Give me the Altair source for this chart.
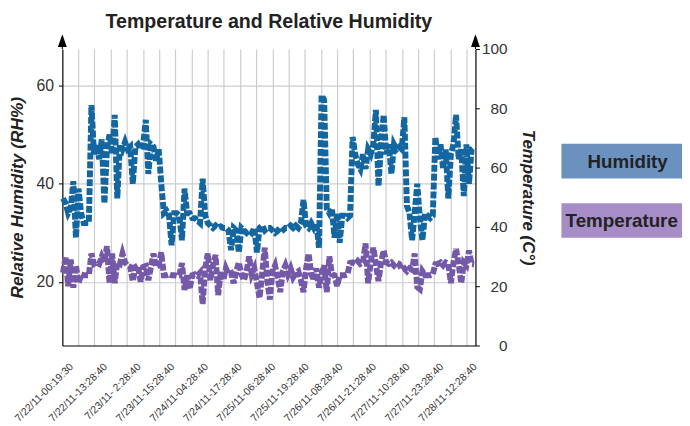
import altair as alt
import pandas as pd
from datetime import datetime

# ---------------- data ----------------
label_strings = [
    "7/22/11-00:19:30", "7/22/11-13:28:40", "7/23/11- 2:28:40", "7/23/11-15:28:40",
    "7/24/11-04:28:40", "7/24/11-17:28:40", "7/25/11-06:28:40", "7/25/11-19:28:40",
    "7/26/11-08:28:40", "7/26/11-21:28:40", "7/27/11-10:28:40", "7/27/11-23:28:40",
    "7/28/11-12:28:40",
]

# hours since the first label (hourly samples)
hours = list(range(-3, 157))

humidity = [
    37, 36, 34, 35, 40.5, 29, 39, 34, 32, 32,
    32, 56, 46, 48, 45, 49, 36, 47, 50, 46,
    54, 37, 48, 47, 48.5, 47, 47.5, 40, 47.5, 48,
    47, 48, 53, 42, 48, 47.5, 44.7, 47, 40, 34,
    34.5, 33.5, 27.5, 34, 34, 33.5, 28.5, 39, 34, 34,
    33, 33, 32.5, 32, 41, 33.5, 32, 31.5, 31, 31.5,
    31, 31.3, 31, 31, 30.5, 26.5, 31, 30.5, 26, 31,
    30.5, 30, 30.5, 30, 31, 26, 31, 31.5, 30.5, 31,
    31, 30.5, 30, 30.5, 30, 30.5, 31, 31, 31.5, 31,
    31.5, 31, 32, 36.7, 31.5, 31, 32, 31, 32, 27,
    58, 57, 35, 34, 35, 29, 34, 28, 33.5, 33.5,
    33, 33.5, 49.5, 46, 44, 43, 46, 43, 47, 46,
    48, 55, 39.5, 48, 54, 46, 48, 42, 48, 47,
    47.5, 47, 53.5, 35.5, 34, 28.5, 34, 40, 33, 28.5,
    34, 33.5, 33, 33.5, 49.5, 45, 48, 43, 47, 37,
    46, 48, 54, 45, 47, 37.5, 48, 40, 47, 47.5,
]

temperature = [
    24.5, 30, 20, 29, 19.5, 27, 21, 24, 23.7, 23.7,
    23.7, 31, 27.5, 28, 27.5, 30, 28, 33.5, 21, 31,
    21, 28, 27.5, 31, 28, 27, 26.5, 21.7, 26.5, 27,
    21.5, 26.5, 26.8, 22, 26.5, 31, 26.5, 27, 31.4, 23.7,
    23.7, 24, 23.7, 23.7, 23.5, 23.7, 27.8, 18.7, 23.7, 19,
    23.7, 24, 23.5, 24.5, 14, 26, 31, 22, 27, 30.5,
    17, 25, 22, 26, 24, 24.4, 21, 25, 28, 24,
    22, 25, 30, 24, 26, 21, 16, 24, 33, 22,
    15.5, 25, 27, 23, 18, 25, 27, 24, 26, 23,
    24.4, 25, 22, 18, 26, 31, 24, 22, 26, 19.5,
    24, 27, 18, 30, 24, 23.7, 20, 23.7, 23.7, 23.7,
    24, 27.8, 28, 27.5, 28.5, 27.5, 28, 34.4, 21, 28,
    33, 27.5, 21.7, 28, 32, 28, 27.5, 28, 27, 28,
    27.5, 25.5, 26, 25, 26, 25.5, 31, 19.7, 19, 25,
    23.7, 23.7, 23.7, 24, 27.4, 27.5, 28, 27, 28, 27.5,
    21, 28, 32.5, 27.5, 21, 28, 27, 32, 27.5, 27.4,
]

series_names = ["Humidity", "Temperature"]
line_colors = ["#13669f", "#7459a8"]
box_colors = ["#6b92bf", "#a68dc8"]

hum_ticks = [20, 40, 60]
temp_ticks = [0, 20, 40, 60, 80, 100]
grid_start, grid_step, grid_count = 2.87, 6.26, 25

# ---------------- helpers ----------------
def parse(s):
    return datetime.strptime(s.replace("- ", "-0"), "%m/%d/%y-%H:%M:%S")

t0 = parse(label_strings[0])
label_hours = [(parse(s) - t0).total_seconds() / 3600 for s in label_strings]
grid_hours = [grid_start + i * grid_step for i in range(grid_count)]

df = pd.DataFrame({"hour": hours, "humidity": humidity, "temperature": temperature})
one = pd.DataFrame({"a": [0]})

FONT = "Liberation Sans, Arial, Helvetica, sans-serif"
W, H = 418, 300

xscale = alt.Scale(domain=[-3.25, 156.5], nice=False, zero=False)
label_expr = "[" + ",".join("'%s'" % s for s in label_strings) + "][round(datum.value / 13)]"

grid_axis = alt.Axis(values=grid_hours, grid=True, gridColor="#cccccc", gridWidth=1.2,
                     labels=False, ticks=False, domain=False, title=None, orient="bottom")
label_axis = alt.Axis(values=label_hours, labelExpr=label_expr, labelAngle=-45,
                      labelFont=FONT, labelFontSize=10.5, labelColor="#333333",
                      ticks=False, grid=False, domainColor="black", domainWidth=1.2,
                      title=None, labelPadding=16, labelOffset=-3, labelOverlap=False,
                      labelBound=False, labelFlush=False, orient="bottom")

left_axis = alt.Axis(values=hum_ticks, grid=True, gridColor="#cccccc", gridWidth=1.2,
                     domainColor="black", domainWidth=1.2, tickColor="black", tickSize=4,
                     labelFont=FONT, labelFontSize=16, labelColor="#333333", labelPadding=5,
                     title="Relative Humidity (RH%)", titleFont=FONT, titleFontSize=17.5,
                     titleFontWeight="bold", titleFontStyle="italic", titleColor="#222222",
                     titlePadding=10, orient="left")
right_axis = alt.Axis(values=temp_ticks, grid=False, domainColor="black", domainWidth=1.2,
                      tickColor="black", tickSize=4, labelFont=FONT, labelFontSize=15.5,
                      labelColor="#333333", labelAlign="right", labelPadding=28,
                      title="Temperature (C°)", titleFont=FONT, titleFontSize=17,
                      titleFontWeight="bold", titleFontStyle="italic", titleColor="#222222",
                      titlePadding=12, orient="right")

hum = alt.Chart(df).mark_line(color=line_colors[0], strokeWidth=6, strokeDash=[7, 2]).encode(
    x=alt.X("hour:Q", scale=xscale, axis=grid_axis),
    y=alt.Y("humidity:Q", scale=alt.Scale(domain=[7.1, 67.4], nice=False, zero=False), axis=left_axis),
)
temp = alt.Chart(df).mark_line(color=line_colors[1], strokeWidth=6, strokeDash=[7, 2]).encode(
    x=alt.X("hour:Q", scale=xscale, axis=label_axis),
    y=alt.Y("temperature:Q", scale=alt.Scale(domain=[0, 100], nice=False), axis=right_axis),
)

# axis extensions with arrow heads
arrow_path = "M0,-2.6L0.9,0L-0.9,0Z"
ext_left = alt.Chart(one).mark_rule(color="black", strokeWidth=1.2).encode(
    x=alt.value(0), y=alt.value(-12), y2=alt.value(0))
ext_right = alt.Chart(one).mark_rule(color="black", strokeWidth=1.2).encode(
    x=alt.value(W), y=alt.value(-12), y2=alt.value(0))
arr_left = alt.Chart(one).mark_point(shape=arrow_path, filled=True, color="black", size=100, opacity=1).encode(
    x=alt.value(0), y=alt.value(-2))
arr_right = alt.Chart(one).mark_point(shape=arrow_path, filled=True, color="black", size=100, opacity=1).encode(
    x=alt.value(W), y=alt.value(-2))

# legend boxes
legend_x = [572, 566]
legend_layers = []
for i, (name, col) in enumerate(zip(series_names, box_colors)):
    y0 = 96 + 60 * i
    legend_layers.append(alt.Chart(one).mark_rect(color=col).encode(
        x=alt.value(505), x2=alt.value(640), y=alt.value(y0), y2=alt.value(y0 + 35)))
    legend_layers.append(alt.Chart(one).mark_text(
        text=name, font=FONT, fontSize=19, fontWeight="bold", color="#222222",
        align="center", baseline="middle").encode(x=alt.value(legend_x[i]), y=alt.value(y0 + 18)))

chart = alt.layer(hum, temp, ext_left, ext_right, arr_left, arr_right, *legend_layers).resolve_scale(
    y="independent"
).resolve_axis(x="independent", y="independent").properties(
    width=W, height=H,
    title=alt.TitleParams("Temperature and Relative Humidity", font=FONT, fontSize=19.8,
                          fontWeight="bold", color="#222222", anchor="middle", frame="group",
                          offset=2),
    autosize=alt.AutoSizeParams(type="none"),
    padding={"left": 55, "top": 39, "right": 209, "bottom": 79},
).configure_view(stroke=None)

chart.save("out.html", embed_options={"renderer": "svg", "actions": False})
